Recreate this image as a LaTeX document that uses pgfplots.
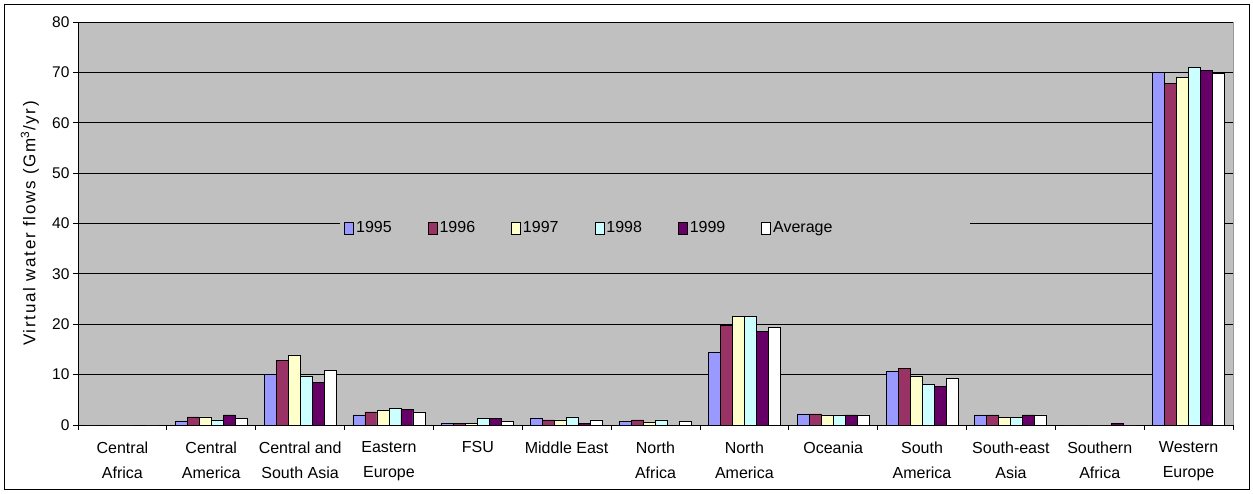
\documentclass[border=0pt]{standalone}
\usepackage{pgfplots}
\usepackage{pgfplotstable}
\pgfplotsset{compat=1.18}
\usepackage{fontspec}
\setmainfont{Liberation Sans}

\definecolor{bg}{HTML}{C0C0C0}
\definecolor{cA}{HTML}{9999FF}
\definecolor{cB}{HTML}{993366}
\definecolor{cC}{HTML}{FFFFCC}
\definecolor{cD}{HTML}{CCFFFF}
\definecolor{cE}{HTML}{660066}

% virtual water flows per region, Gm3/yr
\pgfplotstableread{
x  a95  a96  a97  a98  a99  avg
0  0    0    0    0    0    0
1  0.8  1.6  1.6  1.0  2.0  1.3
2  10.0 12.9 13.9 9.6  8.5  10.9
3  2.0  2.6  2.9  3.3  3.0  2.6
4  0.3  0.3  0.3  1.3  1.3  0.7
5  1.3  1.0  1.0  1.6  0.3  1.0
6  0.7  1.0  0.6  1.0  0    0.7
7  14.4 19.8 21.5 21.5 18.6 19.3
8  2.2  2.2  2.0  2.0  2.0  2.0
9  10.6 11.2 9.6  8.1  7.7  9.3
10 2.0  2.0  1.5  1.5  2.0  2.0
11 0    0    0    0    0.3  0
12 69.9 67.8 69.0 70.9 70.3 69.7
}\flows

\begin{document}
\begin{tikzpicture}
\begin{axis}[
  width=1155pt, height=403pt, scale only axis,
  ybar=0pt, bar width=12pt,
  xmin=-0.5, xmax=12.5, ymin=0, ymax=80,
  ytick={0,10,...,80},
  xtick={-0.5,0.5,...,12.5}, xticklabels={},
  extra x ticks={0,...,12},
  extra x tick labels={{Central\\Africa},{Central\\America},{Central and\\South Asia},{Eastern\\Europe},{FSU\\\strut},{Middle East\\\strut},{North\\Africa},{North\\America},{Oceania\\\strut},{South\\America},{South-east\\Asia},{Southern\\Africa},{Western\\Europe}},
  extra x tick style={major tick length=0pt},
  xticklabel style={align=center, font=\fontsize{16}{25}\selectfont, yshift=-13pt},
  yticklabel style={font=\fontsize{15.5}{18}\selectfont},
  /pgf/number format/assume math mode=true,
  tick align=outside, major tick length=5pt,
  tick style={black, line width=0.8pt},
  axis x line*=bottom, axis y line*=left,
  axis line style={black, line width=0.8pt},
  axis background/.style={fill=bg, draw=gray!80},
  ymajorgrids, major grid style={black, line width=0.8pt},
  ylabel={Virtual water flows (Gm\textsuperscript{3}/yr)},
  ylabel style={at={(axis description cs:-0.0416,0.5)}, anchor=center,
    font=\fontsize{17}{20}\selectfont\addfontfeatures{LetterSpace=10}},
  legend columns=6,
  legend image code/.code={\draw[#1, line width=0.8pt] (0pt,-6pt) rectangle (9pt,6pt);},
  legend style={at={(0.227,0.489)}, anchor=west, fill=bg, draw=none,
    font=\fontsize{16}{18}\selectfont, inner xsep=4pt,
    /tikz/every even column/.append style={column sep=34pt}},
  every axis plot/.append style={draw=black, line width=0.8pt},
]
\addplot[fill=cA] table[x=x, y=a95] {\flows};
\addplot[fill=cB] table[x=x, y=a96] {\flows};
\addplot[fill=cC] table[x=x, y=a97] {\flows};
\addplot[fill=cD] table[x=x, y=a98] {\flows};
\addplot[fill=cE] table[x=x, y=a99] {\flows};
\addplot[fill=white] table[x=x, y=avg] {\flows};
\legend{1995,1996,1997,1998,1999,Average}
\fill[bg] (rel axis cs:0.5,0.46) rectangle (rel axis cs:0.7725,0.52);
\end{axis}
\draw[line width=1pt] (-73pt,-64pt) rectangle (1171pt,420pt);
\path (-78pt,-68pt) rectangle (1175pt,425pt);
\end{tikzpicture}
\end{document}
